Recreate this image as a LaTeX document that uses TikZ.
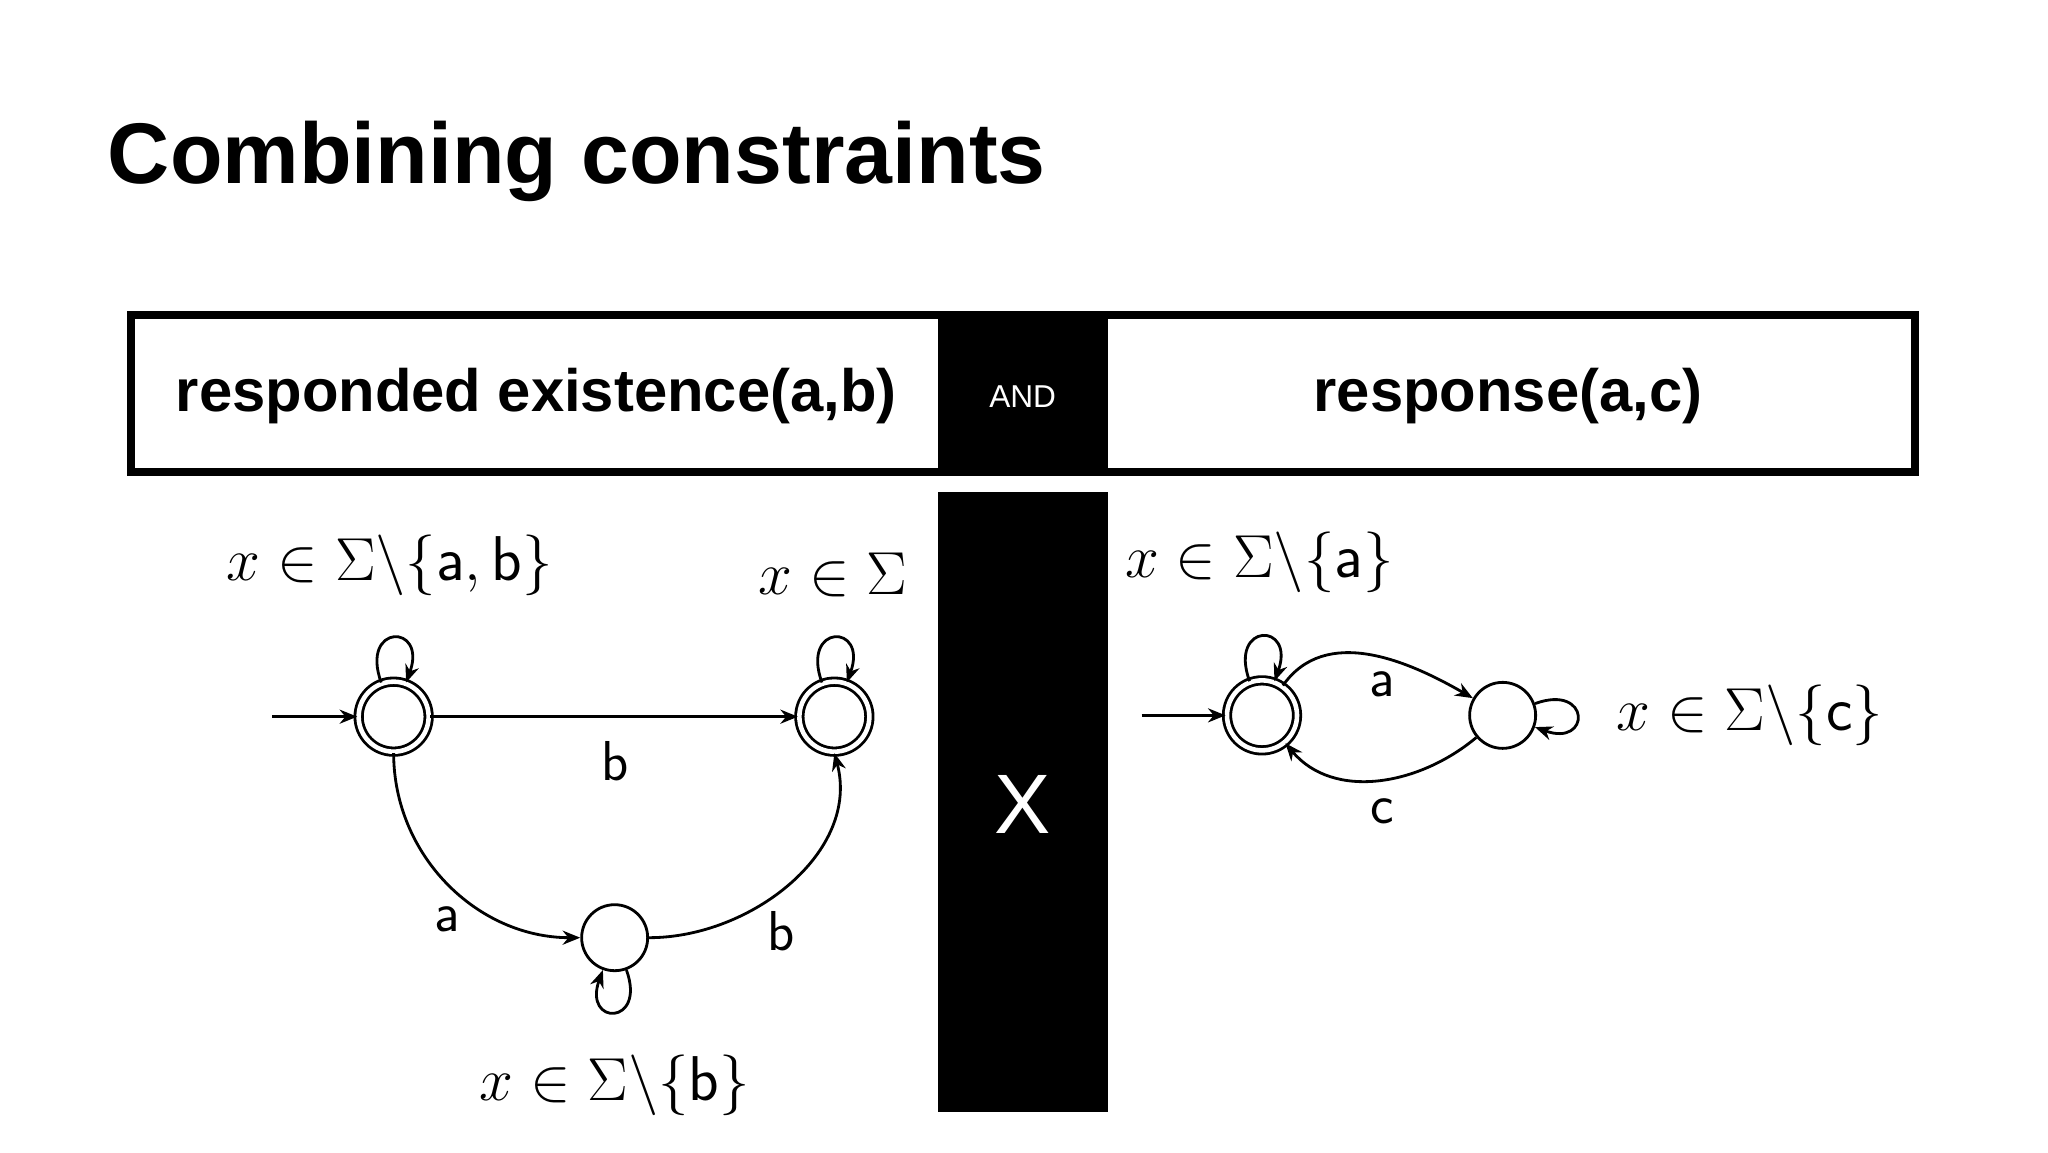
\documentclass[tikz,border=0pt]{standalone}
\usepackage{fontspec}
\setmainfont{Liberation Sans}
\usepackage{amsmath}
\usetikzlibrary{arrows.meta,automata}
\newfontfamily\cmsans{Latin Modern Sans}
\begin{document}
\begin{tikzpicture}[x=0.01308cm,y=-0.01308cm,
  st/.style={circle,draw,thick,minimum size=0.66cm,inner sep=0pt},
  acc/.style={st,double,double distance=1.3pt,minimum size=0.7cm},
  ed/.style={-{Stealth[length=5pt,width=4pt]},thick},
  lab/.style={font=\fontsize{18}{18}\selectfont},
  el/.style={font=\cmsans\fontsize{16}{16}\selectfont}]
\useasboundingbox (0,0) rectangle (1566,881);
\node[anchor=base west,font=\bfseries\fontsize{24.5}{25}\selectfont] (title) at (73,140) {Combining constraints};
% header box
\fill[black] (97,238) rectangle (1467,364);
\fill[white] (103,244) rectangle (717,358);
\fill[white] (847,244) rectangle (1461,358);
\fill[black] (717,376) rectangle (847,850);
\node[font=\bfseries\fontsize{17}{17}\selectfont] (h1) at (410,303) {responded existence(a,b)};
\node[font=\fontsize{9}{9}\selectfont,text=white] (and) at (782,303) {AND};
\node[font=\fontsize{17}{17}\selectfont\bfseries] (h2) at (1153,303) {response(a,c)};
\node[font=\fontsize{24}{24}\selectfont,text=white] (x) at (782,615) {X};
% left automaton
\node[acc] (q0) at (301,548) {};
\node[acc] (q1) at (638,548) {};
\node[st] (q2) at (470,717) {};
\coordinate (i0) at (208,548);
\draw[ed] (i0) -- (q0);
\draw[ed] (q0) -- (q1);
\draw[ed] (q0.south) to[out=-90,in=180] (q2.west);
\draw[ed] (q2.east) to[out=0,in=-75] (q1.south);
\draw[ed] (q0) to[out=110,in=70,looseness=6.5] (q0);
\draw[ed] (q1) to[out=110,in=70,looseness=6.5] (q1);
\draw[ed] (q2) to[out=-70,in=-110,looseness=6.5] (q2);
\node[el] (lb1) at (470,582) {b};
\node[el] (la1) at (342,703) {a};
\node[el] (lb2) at (597,712) {b};
\node[lab] (l0) at (298,432) {$x\in\Sigma\backslash\{\text{\cmsans a}, \text{\cmsans b}\}$};
\node[lab] (l1) at (637,440) {$x\in\Sigma$};
\node[lab] (l2) at (470,830) {$x\in\Sigma\backslash\{\text{\cmsans b}\}$};
% right automaton
\node[acc] (p0) at (965,547) {};
\node[st] (p1) at (1149,547) {};
\coordinate (i1) at (873,547);
\draw[ed] (i1) -- (p0);
\draw[ed] (p0) to[out=55,in=150] (p1);
\draw[ed] (p1) to[out=-140,in=-50] (p0);
\draw[ed] (p0) to[out=110,in=70,looseness=6.5] (p0);
\draw[ed] (p1) to[out=20,in=-20,looseness=6.5] (p1);
\node[el] (la2) at (1057,523) {a};
\node[el] (lc) at (1057,620) {c};
\node[lab] (m0) at (963,430) {$x\in\Sigma\backslash\{\text{\cmsans a}\}$};
\node[lab] (m1) at (1338,547) {$x\in\Sigma\backslash\{\text{\cmsans c}\}$};
\end{tikzpicture}
\end{document}
